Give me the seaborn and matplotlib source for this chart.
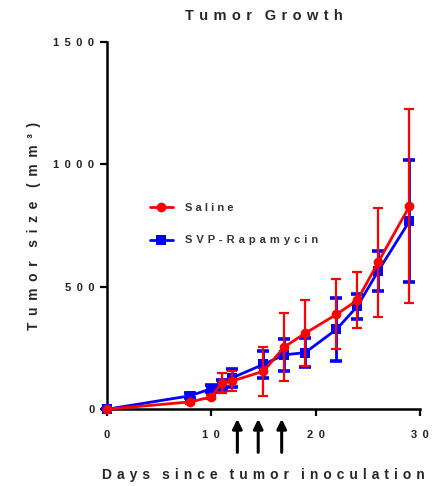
import matplotlib
matplotlib.use("Agg")
import matplotlib.pyplot as plt
from matplotlib.lines import Line2D
import pandas as pd
import seaborn as sns

# Tumor volume (mean ± SEM) per group
days_saline = [0, 8, 10, 11, 12, 15, 17, 19, 22, 24, 26, 29]
saline_mean = [0, 30, 50, 107, 115, 155, 254, 310, 387, 445, 600, 829]
saline_err = [0, 8, 10, 42, 40, 100, 137, 135, 143, 115, 222, 395]

days_svp = [0, 8, 10, 11, 12, 15, 17, 19, 22, 24, 26, 29]
svp_mean = [0, 55, 84, 100, 128, 183, 222, 231, 326, 420, 564, 768]
svp_err = [0, 10, 14, 20, 38, 55, 66, 60, 130, 50, 80, 250]

# Treatment days marked below the axis
dose_days = [12.5, 14.5, 16.75]

x_ticks = [0, 10, 20, 30]
y_ticks = [0, 500, 1000, 1500]

RED = "#ff0000"
BLUE = "#0000ff"


def spaced(s, gap=" "):
    """Letter-spaced text: a gap between letters, a wider one between words."""
    words = s.split(" ")
    return (gap + "\u2002").join(gap.join(w) for w in words)


sns.set_theme(style="ticks")
plt.rcParams["font.family"] = ["Liberation Sans", "DejaVu Sans"]
plt.rcParams["font.weight"] = "bold"

fig = plt.figure(figsize=(4.42, 4.86), dpi=100)
ax = fig.add_axes([0.242, 0.158, 0.708, 0.756])

df = pd.concat([
    pd.DataFrame({"day": days_svp, "size": svp_mean, "group": "SVP-Rapamycin"}),
    pd.DataFrame({"day": days_saline, "size": saline_mean, "group": "Saline"}),
])

ax.errorbar(days_svp, svp_mean, yerr=svp_err, fmt="none", ecolor=BLUE,
            elinewidth=2.0, capsize=4, capthick=2.6, clip_on=False, zorder=2)
ax.errorbar(days_saline, saline_mean, yerr=saline_err, fmt="none", ecolor=RED,
            elinewidth=1.6, capsize=3.5, capthick=1.6, clip_on=False, zorder=4)

sns.lineplot(data=df, x="day", y="size", hue="group", style="group",
             hue_order=["Saline", "SVP-Rapamycin"],
             palette={"Saline": RED, "SVP-Rapamycin": BLUE},
             markers={"Saline": "o", "SVP-Rapamycin": "s"},
             dashes=False, linewidth=2.0, markersize=7, markeredgewidth=0,
             ax=ax, legend=False)
for ln in ax.get_lines():
    ln.set_clip_on(False)
    if matplotlib.colors.to_hex(ln.get_color()) == RED:
        ln.set_zorder(6)
    else:
        ln.set_zorder(3)

ax.set_xlim(0, 30)
ax.set_ylim(0, 1500)
ax.set_xticks(x_ticks)
ax.set_xticklabels([spaced(str(t), " \u2009") for t in x_ticks])
ax.set_yticks(y_ticks)
ax.set_yticklabels([spaced(str(t), " \u2009") for t in y_ticks])
ax.tick_params(axis="both", labelsize=8, width=1.6, length=5, color="black")
ax.tick_params(axis="x", pad=10)
ax.tick_params(axis="y", pad=4)
for lab in ax.get_xticklabels() + ax.get_yticklabels():
    lab.set_fontweight("bold")
    lab.set_color("#222222")

sns.despine(ax=ax)
for sp in ("left", "bottom"):
    ax.spines[sp].set_linewidth(1.8)
    ax.spines[sp].set_color("black")

ax.set_title(spaced("Tumor Growth", " \u200a"), fontsize=10.5,
             fontweight="bold", pad=16)
ax.set_xlabel(spaced("Days since tumor inoculation", " \u200a"), fontsize=10,
              fontweight="bold", labelpad=20)
ax.set_ylabel(spaced("Tumor size (mm\u00b3)", " \u2009"), fontsize=10,
              fontweight="bold", labelpad=9)

# Legend
handles = [
    Line2D([], [], color=RED, marker="o", markersize=7, linewidth=2,
           markeredgewidth=0),
    Line2D([], [], color=BLUE, marker="s", markersize=7, linewidth=2,
           markeredgewidth=0),
]
leg = ax.legend(handles, [spaced("Saline"), spaced("SVP-Rapamycin", " \u200a")],
                loc="center left", bbox_to_anchor=(0.137, 0.504),
                frameon=False, fontsize=8, handlelength=2.07,
                labelspacing=2.06, handletextpad=1.08,
                borderpad=0, borderaxespad=0)
for t in leg.get_texts():
    t.set_fontweight("bold")
    t.set_color("#333333")

# Dosing arrows
for d in dose_days:
    ax.annotate("", xy=(d, -0.019), xytext=(d, -0.125),
                xycoords=("data", "axes fraction"),
                textcoords=("data", "axes fraction"),
                annotation_clip=False,
                arrowprops=dict(arrowstyle="-|>", color="black", lw=2.2,
                                mutation_scale=14))

fig.savefig("out.png", dpi=100, facecolor="white")
